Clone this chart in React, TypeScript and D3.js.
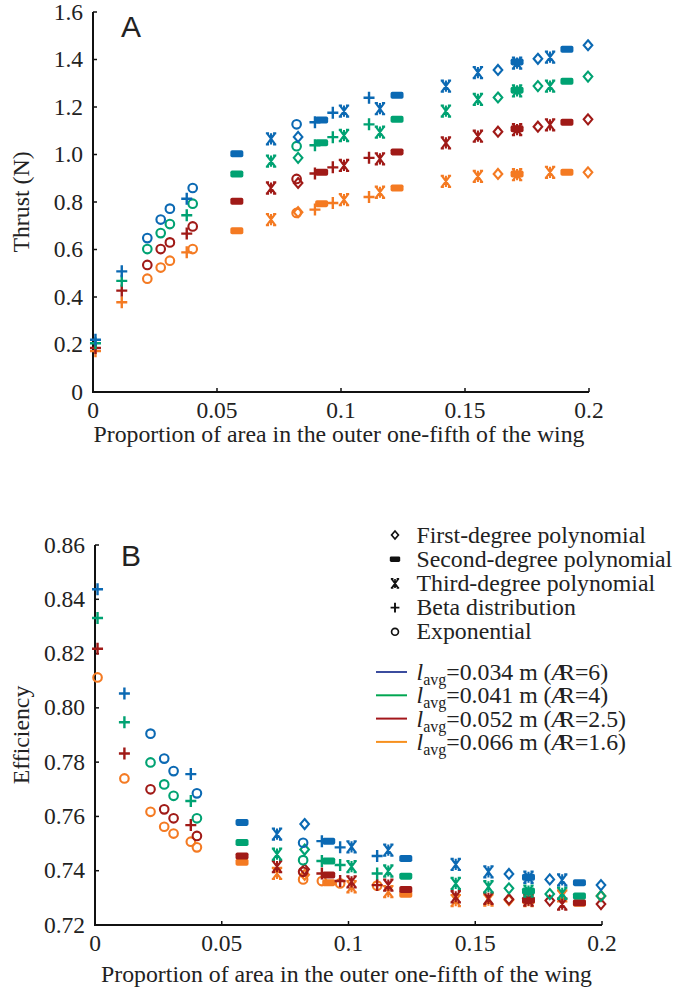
import React from "react";
import * as d3 from "d3";

// ---------- data ----------
const seriesNames = ["0.034", "0.041", "0.052", "0.066"];
const seriesAR = ["6", "4", "2.5", "1.6"];
const markerColors = ["#0b69b3", "#00a272", "#a01a17", "#f47a22"];
const legendLineColors = ["#3b4c9e", "#00a651", "#a3161b", "#f7901e"];

const shapeNames = ["First-degree polynomial", "Second-degree polynomial", "Third-degree polynomial", "Beta distribution", "Exponential"];
const shapeKeys = ["first", "second", "third", "beta", "exp"];

// proportion of area in outer fifth of the wing, and distribution type of each design
const proportion = [0.001, 0.0116, 0.0219, 0.0273, 0.031, 0.0378, 0.0402, 0.058, 0.0718, 0.0821, 0.0827, 0.0895, 0.0922, 0.0967, 0.1012, 0.1113, 0.1157, 0.1226, 0.1423, 0.1552, 0.1633, 0.171, 0.171, 0.1794, 0.1843, 0.1911, 0.1996];
const design = ["beta", "beta", "exp", "exp", "exp", "beta", "exp", "second", "third", "exp", "first", "beta", "second", "beta", "third", "beta", "third", "second", "third", "third", "first", "second", "third", "first", "third", "second", "first"];
// panel B draws the orange series' beta designs with circles
const designOrangeB = ["exp", "exp", "exp", "exp", "exp", "exp", "exp", "second", "third", "exp", "first", "exp", "second", "exp", "third", "exp", "third", "second", "third", "third", "first", "second", "third", "first", "third", "second", "first"];

const thrustBlue = [0.22, 0.508, 0.648, 0.726, 0.772, 0.814, 0.859, 1.003, 1.066, 1.127, 1.074, 1.136, 1.145, 1.176, 1.183, 1.239, 1.193, 1.249, 1.288, 1.345, 1.356, 1.39, 1.385, 1.403, 1.41, 1.443, 1.46];
const thrustGreen = [0.205, 0.468, 0.602, 0.669, 0.707, 0.744, 0.793, 0.918, 0.972, 1.035, 0.986, 1.039, 1.049, 1.073, 1.08, 1.127, 1.094, 1.148, 1.183, 1.232, 1.24, 1.271, 1.268, 1.288, 1.288, 1.308, 1.328];
const thrustRed = [0.185, 0.427, 0.535, 0.602, 0.63, 0.667, 0.697, 0.803, 0.859, 0.897, 0.88, 0.92, 0.925, 0.946, 0.954, 0.986, 0.982, 1.011, 1.049, 1.077, 1.096, 1.108, 1.105, 1.117, 1.125, 1.136, 1.148];
const thrustOrange = [0.172, 0.378, 0.477, 0.524, 0.553, 0.588, 0.602, 0.679, 0.726, 0.754, 0.757, 0.768, 0.793, 0.796, 0.81, 0.821, 0.841, 0.859, 0.887, 0.908, 0.918, 0.918, 0.915, null, 0.925, 0.925, 0.925];

const effBlue = [0.8437, 0.8053, 0.7905, 0.7813, 0.7767, 0.7756, 0.7685, 0.7578, 0.7535, 0.7503, 0.7572, 0.7509, 0.7509, 0.7486, 0.7488, 0.7454, 0.7476, 0.7445, 0.7423, 0.7396, 0.7388, 0.7376, 0.7376, 0.7368, 0.7366, 0.7356, 0.7347];
const effGreen = [0.8331, 0.7947, 0.7799, 0.7718, 0.7676, 0.7657, 0.7593, 0.7504, 0.7461, 0.7439, 0.7478, 0.7436, 0.7436, 0.7421, 0.7415, 0.739, 0.7399, 0.738, 0.7353, 0.7341, 0.7335, 0.7325, 0.7325, 0.7314, 0.7317, 0.7307, 0.7307];
const effRed = [0.8218, 0.7832, 0.77, 0.7626, 0.7593, 0.7568, 0.7528, 0.7454, 0.7415, 0.7396, 0.7405, 0.739, 0.7384, 0.7362, 0.7359, 0.7347, 0.7347, 0.7331, 0.7304, 0.7298, 0.7295, 0.7292, 0.7292, 0.729, 0.7277, 0.7282, 0.7277];
const effOrange = [0.8112, 0.774, 0.7617, 0.7562, 0.7537, 0.7507, 0.7486, 0.7431, 0.739, 0.7368, 0.7385, 0.7362, 0.7356, 0.7353, 0.7341, 0.7345, 0.7323, 0.7313, 0.729, 0.7292, 0.7292, 0.729, 0.729, null, 0.7307, 0.728, 0.7307];

const xTicks = [0, 0.05, 0.1, 0.15, 0.2];
const xTickLabels = ["0", "0.05", "0.1", "0.15", "0.2"];
const thrustTicks = [0, 0.2, 0.4, 0.6, 0.8, 1.0, 1.2, 1.4, 1.6];
const thrustTickLabels = ["0", "0.2", "0.4", "0.6", "0.8", "1.0", "1.2", "1.4", "1.6"];
const effTicks = [0.72, 0.74, 0.76, 0.78, 0.8, 0.82, 0.84, 0.86];
const effTickLabels = ["0.72", "0.74", "0.76", "0.78", "0.80", "0.82", "0.84", "0.86"];

// ---------- drawing ----------
const SERIF = "'Liberation Serif', 'Times New Roman', serif";
const SANS = "'Liberation Sans', Arial, sans-serif";

function Marker({ shape, x, y, color, s = 1 }: { shape: string; x: number; y: number; color: string; s?: number }) {
  if (shape === "first") {
    return <path d={`M${x},${y - 5 * s}L${x + 4.3 * s},${y}L${x},${y + 5 * s}L${x - 4.3 * s},${y}Z`} fill="none" stroke={color} strokeWidth={2.1 * s} />;
  }
  if (shape === "second") {
    return <rect x={x - 6.5 * s} y={y - 3.5 * s} width={13 * s} height={7 * s} rx={1.8 * s} fill={color} />;
  }
  if (shape === "third") {
    const w = 4.2 * s, h = 5.6 * s;
    const d = `M${x - w},${y - h}L${x + w},${y + h}M${x + w},${y - h}L${x - w},${y + h}M${x},${y - h}V${y + h}` +
      `M${x - w - 1 * s},${y - h}H${x - w + 2.2 * s}M${x + w - 2.2 * s},${y - h}H${x + w + 1 * s}` +
      `M${x - w - 1 * s},${y + h}H${x - w + 2.2 * s}M${x + w - 2.2 * s},${y + h}H${x + w + 1 * s}`;
    return <path d={d} fill="none" stroke={color} strokeWidth={2.1 * s} />;
  }
  if (shape === "beta") {
    return <path d={`M${x - 5.5 * s},${y}H${x + 5.5 * s}M${x},${y - 6 * s}V${y + 6 * s}`} fill="none" stroke={color} strokeWidth={2.4 * s} />;
  }
  return <circle cx={x} cy={y} r={4.3 * s} fill="none" stroke={color} strokeWidth={2.1 * s} />;
}

function Axes({ x, y, xt, xtl, yt, ytl, yTitle, xTitle, letter, letterY, xTitleY, yTitleX }: any) {
  const [x0, x1] = x.range();
  const [y0, y1] = y.range();
  return (
    <g>
      <line x1={x0} x2={x0} y1={y0 + 1} y2={y1} stroke="#111" strokeWidth={2} />
      <line x1={x0 - 1} x2={x1} y1={y0} y2={y0} stroke="#111" strokeWidth={2} />
      {yt.map((t: number, i: number) => (
        <g key={"y" + i}>
          <line x1={x0} x2={x0 + 4} y1={y(t)} y2={y(t)} stroke="#111" strokeWidth={1.5} />
          <text x={x0 - 10} y={y(t) + 7.5} textAnchor="end" fontFamily={SERIF} fontSize={23.5} fill="#222">{ytl[i]}</text>
        </g>
      ))}
      {xt.map((t: number, i: number) => (
        <g key={"x" + i}>
          <line x1={x(t)} x2={x(t)} y1={y0} y2={y0 - 4} stroke="#111" strokeWidth={1.5} />
          <text x={x(t)} y={y0 + 26} textAnchor="middle" fontFamily={SERIF} fontSize={23.5} fill="#222">{xtl[i]}</text>
        </g>
      ))}
      <text x={(x0 + x1) / 2 - 2} y={xTitleY} textAnchor="middle" fontFamily={SERIF} fontSize={23.8} fill="#222">{xTitle}</text>
      <text transform={`translate(${yTitleX},${(y0 + y1) / 2}) rotate(-90)`} textAnchor="middle" fontFamily={SERIF} fontSize={23.8} fill="#222">{yTitle}</text>
      <text x={121} y={letterY} fontFamily={SANS} fontSize={30} fill="#222">{letter}</text>
    </g>
  );
}

export default function App() {
  const xA = d3.scaleLinear().domain([0, 0.2]).range([93, 589]);
  const yA = d3.scaleLinear().domain([0, 1.6]).range([392, 12]);
  const xB = d3.scaleLinear().domain([0, 0.2]).range([95, 602]);
  const yB = d3.scaleLinear().domain([0.72, 0.86]).range([925, 545]);

  const thrust = [thrustBlue, thrustGreen, thrustRed, thrustOrange];
  const eff = [effBlue, effGreen, effRed, effOrange];
  const drawOrder = [3, 2, 1, 0];

  const pts = (vals: (number | null)[][], x: any, y: any, panel: string) =>
    drawOrder.map((si) => (
      <g key={panel + si}>
        {vals[si].map((v, i) => {
          if (v === null) return null;
          const shape = panel === "B" && si === 3 ? designOrangeB[i] : design[i];
          return <Marker key={i} shape={shape} x={x(proportion[i])} y={y(v)} color={markerColors[si]} />;
        })}
      </g>
    ));

  const xTitle = "Proportion of area in the outer one-fifth of the wing";

  return (
    <svg width={674} height={993} style={{ position: "absolute", left: 0, top: 0, background: "#fff" }}>
      <rect width={674} height={993} fill="#fff" />
      <Axes x={xA} y={yA} xt={xTicks} xtl={xTickLabels} yt={thrustTicks} ytl={thrustTickLabels} yTitle="Thrust (N)" xTitle={xTitle} letter="A" letterY={37} xTitleY={442} yTitleX={29} />
      {pts(thrust, xA, yA, "A")}
      <Axes x={xB} y={yB} xt={xTicks} xtl={xTickLabels} yt={effTicks} ytl={effTickLabels} yTitle="Efficiency" xTitle={xTitle} letter="B" letterY={566} xTitleY={982} yTitleX={29} />
      {pts(eff, xB, yB, "B")}
      {/* legend */}
      <g>
        {shapeNames.map((n, i) => {
          const cy = 535 + i * 24.2;
          return (
            <g key={n}>
              <Marker shape={shapeKeys[i]} x={395} y={cy} color="#111" s={0.8} />
              <text x={416.5} y={cy + 7.5} fontFamily={SERIF} fontSize={23.8} fill="#222">{n}</text>
            </g>
          );
        })}
        {seriesNames.map((n, i) => {
          const cy = 672 + i * 23.3;
          return (
            <g key={n}>
              <line x1={376} x2={407} y1={cy} y2={cy} stroke={legendLineColors[i]} strokeWidth={2} />
              <text x={416.5} y={cy + 8} fontFamily={SERIF} fontSize={23.8} fill="#222">
                <tspan fontStyle="italic">l</tspan>
                <tspan fontSize={16} dy={5}>avg</tspan>
                <tspan dy={-5}>{`=${n} m (`}</tspan>
                <tspan fontStyle="italic">A</tspan>
                <tspan dx={-7}>R</tspan>
                <tspan>{`=${seriesAR[i]})`}</tspan>
              </text>
            </g>
          );
        })}
      </g>
    </svg>
  );
}
